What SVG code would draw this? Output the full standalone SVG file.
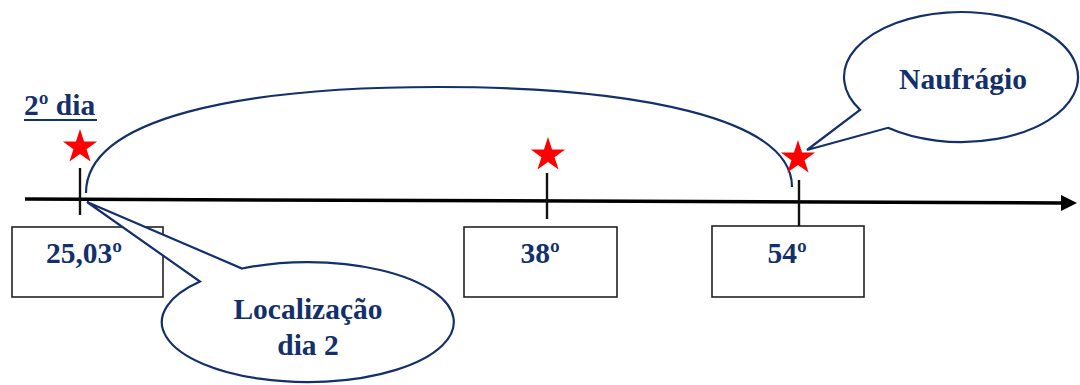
<svg xmlns="http://www.w3.org/2000/svg" xmlns:xlink="http://www.w3.org/1999/xlink" width="1080" height="385" viewBox="0 0 1080 385">
  <defs>
    <style>
      .lbl { font-family: "Liberation Serif", "DejaVu Serif", serif; font-weight: bold; font-size: 29.5px; fill: #13306b; text-anchor: middle; }
      .box { fill: #ffffff; stroke: #222222; stroke-width: 1.6; }
      .tick { stroke: #111111; stroke-width: 2.4; }
      .bubble { fill: #ffffff; stroke: #13306b; stroke-width: 2.2; stroke-linejoin: miter; }
      .star { fill: #ff0000; }
    </style>
    <marker id="arrowHead" viewBox="0 0 16 16" refX="2" refY="8" markerWidth="16" markerHeight="16" markerUnits="userSpaceOnUse" orient="auto">
      <path d="M0,0 L16,8 L0,16 Z" fill="#000000"/>
    </marker>
    <!-- five-pointed star, outer radius 18 -->
    <path id="starShape" d="M0,-18 L4.06,-5.59 L17.12,-5.56 L6.57,2.14 L10.58,14.56 L0,6.9 L-10.58,14.56 L-6.57,2.14 L-17.12,-5.56 L-4.06,-5.59 Z"/>
  </defs>

  <rect width="1080" height="385" fill="#ffffff"/>

  <!-- title -->
  <g id="title">
    <text x="24" y="115" class="lbl" style="text-anchor:start">2º dia</text>
    <line x1="24" y1="120" x2="97" y2="120" stroke="#13306b" stroke-width="2"/>
  </g>

  <!-- value boxes -->
  <g id="box-2503">
    <rect x="12" y="227" width="151" height="70" class="box"/>
    <text x="84" y="263" class="lbl">25,03º</text>
  </g>
  <g id="box-38">
    <rect x="464" y="227" width="153" height="70" class="box"/>
    <text x="540" y="263" class="lbl">38º</text>
  </g>
  <g id="box-54">
    <rect x="712" y="226" width="152" height="71" class="box"/>
    <text x="787" y="263" class="lbl">54º</text>
  </g>

  <!-- connectors: time axis, ticks and the arc between positions -->
  <g id="connectors">
    <line x1="25" y1="199" x2="1063" y2="203" stroke="#000000" stroke-width="3.5" marker-end="url(#arrowHead)"/>
    <line x1="80" y1="168" x2="80" y2="215" class="tick"/>
    <line x1="547" y1="173" x2="547" y2="219" class="tick"/>
    <line x1="799" y1="180" x2="799" y2="226" class="tick"/>
    <path d="M86,193 C86,118 240,87 438,87 C636,87 792,118 792,187" fill="none" stroke="#13306b" stroke-width="2.2"/>
  </g>

  <!-- bubble: shipwreck -->
  <g id="bubble-naufragio">
    <path class="bubble" d="M860,109.8 A117,65 0 1 1 888,127.8 L807,150 Z"/>
    <text x="963" y="89" class="lbl">Naufrágio</text>
  </g>

  <!-- bubble: position on day 2 -->
  <g id="bubble-localizacao">
    <path class="bubble" d="M242,268.5 A146,60 0 1 1 200,281.6 L87,202 Z"/>
    <text x="308" y="319" class="lbl">Localização</text>
    <text x="308" y="355" class="lbl">dia 2</text>
  </g>

  <!-- markers on the axis -->
  <g id="star-1"><use xlink:href="#starShape" class="star" transform="translate(80,147)"/></g>
  <g id="star-2"><use xlink:href="#starShape" class="star" transform="translate(548,155)"/></g>
  <g id="star-3"><use xlink:href="#starShape" class="star" transform="translate(798,158)"/></g>
</svg>
